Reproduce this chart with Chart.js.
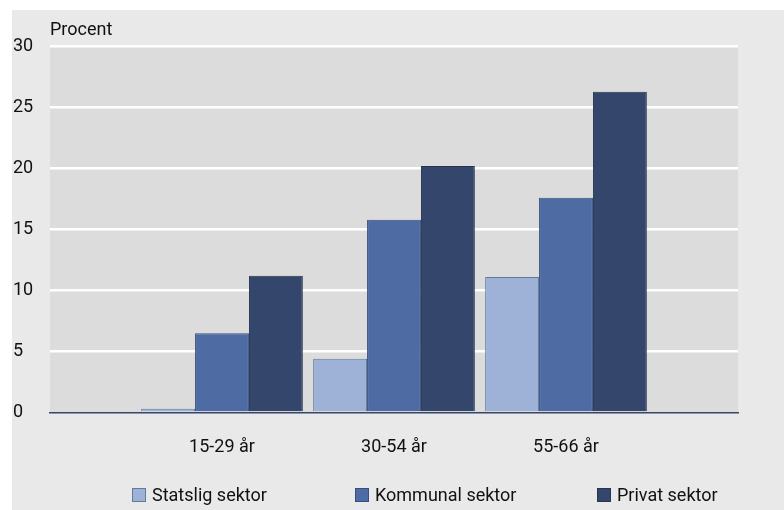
<!DOCTYPE html>
<html>
<head>
<meta charset="utf-8">
<script src="https://cdn.jsdelivr.net/npm/chart.js@4.4.0/dist/chart.umd.min.js"></script>
<style>
  html, body { margin: 0; padding: 0; background: #fff; }
</style>
</head>
<body>
<canvas id="chart" width="784" height="510"></canvas>
<script>
// data (percent)
const categories = ['', '15-29 år', '30-54 år', '55-66 år', ''];
const statsligSektor = [null, 0.3, 4.4, 11.1, null];
const kommunalSektor = [null, 6.5, 15.8, 17.6, null];
const privatSektor = [null, 11.2, 20.2, 26.3, null];
const yTicks = [0, 5, 10, 15, 20, 25, 30];

const FONT = 'Roboto, "Open Sans", sans-serif';

// gray panel + plot background
const background = {
  id: 'background',
  beforeDraw(chart) {
    const { ctx, chartArea } = chart;
    ctx.save();
    ctx.fillStyle = '#e9e9e9';
    ctx.fillRect(12, 10, chart.width - 12, chart.height - 10);
    ctx.fillStyle = '#dcdcdc';
    ctx.fillRect(chartArea.left, chartArea.top, chartArea.right - chartArea.left, chartArea.bottom - chartArea.top);
    ctx.restore();
  }
};

// legend drawn at the bottom, items spaced like the original
const bottomLegend = {
  id: 'bottomLegend',
  afterDraw(chart) {
    const ctx = chart.ctx;
    const xs = [132, 355, 597];
    const y = 495;
    ctx.save();
    ctx.font = '18px ' + FONT;
    ctx.textBaseline = 'middle';
    chart.data.datasets.forEach((ds, i) => {
      const x = xs[i];
      ctx.fillStyle = ds.backgroundColor;
      ctx.fillRect(x, y - 7, 14, 14);
      ctx.strokeStyle = ds.borderColor;
      ctx.lineWidth = 1;
      ctx.strokeRect(x + 0.5, y - 6.5, 13, 13);
      ctx.fillStyle = '#111';
      ctx.fillText(ds.label, x + 20, y + 1);
    });
    ctx.restore();
  }
};

new Chart(document.getElementById('chart'), {
  type: 'bar',
  data: {
    labels: categories,
    datasets: [
      {
        label: 'Statslig sektor',
        data: statsligSektor,
        backgroundColor: '#9eb1d6',
        borderColor: '#65779f',
        borderWidth: 1,
      },
      {
        label: 'Kommunal sektor',
        data: kommunalSektor,
        backgroundColor: '#4e6ca3',
        borderColor: '#374f7c',
        borderWidth: 1,
      },
      {
        label: 'Privat sektor',
        data: privatSektor,
        backgroundColor: '#34466b',
        borderColor: '#27364f',
        borderWidth: 1,
      },
    ],
  },
  options: {
    responsive: false,
    animation: false,
    categoryPercentage: 0.94,
    barPercentage: 1,
    layout: { padding: { left: 13, right: 46, top: 10, bottom: 28 } },
    font: { family: FONT, size: 18 },
    color: '#111',
    plugins: {
      legend: { display: false },
      tooltip: { enabled: false },
      title: {
        display: true,
        text: 'Procent',
        align: 'start',
        fullSize: false,
        color: '#111',
        font: { family: FONT, size: 18, weight: 'normal' },
        padding: { top: 10, bottom: 5 },
      },
    },
    scales: {
      x: {
        offset: false,
        grid: { display: false, drawTicks: false },
        border: { display: true, color: '#34466b', width: 1.5 },
        ticks: { color: '#111', padding: 24, font: { family: FONT, size: 18 }, maxRotation: 0, autoSkip: false },
      },
      y: {
        min: 0,
        max: 30,
        afterBuildTicks(scale) { scale.ticks = yTicks.map(v => ({ value: v })); },
        afterFit(scale) { scale.width = 37; },
        grid: {
          drawTicks: false,
          lineWidth: 2.5,
          color: (c) => (c.tick && c.tick.value === 0 ? 'rgba(0,0,0,0)' : '#ffffff'),
        },
        border: { display: false },
        ticks: { color: '#111', crossAlign: 'far', padding: 0, font: { family: FONT, size: 18 } },
      },
    },
  },
  plugins: [background, bottomLegend],
});
</script>
</body>
</html>
